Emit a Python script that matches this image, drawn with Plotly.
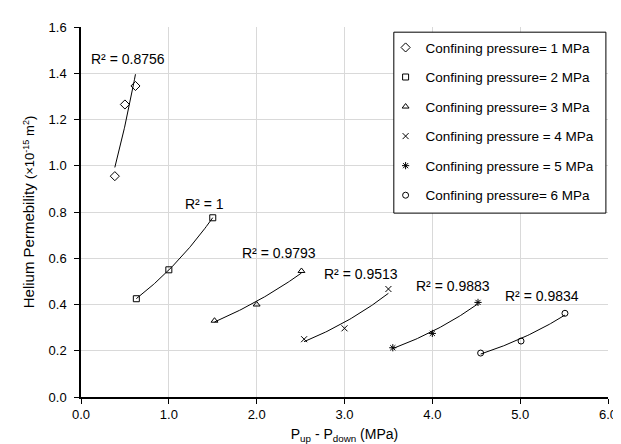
import numpy as np
import plotly.graph_objects as go

# ---- data ----
names = ["Confining pressure= 1 MPa", "Confining pressure= 2 MPa", "Confining pressure= 3 MPa",
         "Confining pressure = 4 MPa", "Confining pressure = 5 MPa", "Confining pressure= 6 MPa"]
dp_1 = [0.385, 0.50, 0.62]
k_1 = [0.955, 1.265, 1.345]
dp_2 = [0.63, 1.00, 1.50]
k_2 = [0.425, 0.55, 0.775]
dp_3 = [1.52, 2.00, 2.51]
k_3 = [0.33, 0.40, 0.545]
dp_4 = [2.54, 3.00, 3.50]
k_4 = [0.25, 0.297, 0.467]
dp_5 = [3.55, 4.00, 4.52]
k_5 = [0.213, 0.275, 0.409]
dp_6 = [4.55, 5.01, 5.51]
k_6 = [0.19, 0.242, 0.362]
r2_labels = ["R² = 0.8756", "R² = 1", "R² = 0.9793", "R² = 0.9513", "R² = 0.9883", "R² = 0.9834"]
x_ticks = [0, 1, 2, 3, 4, 5, 6]
y_ticks = [0, 0.2, 0.4, 0.6, 0.8, 1.0, 1.2, 1.4, 1.6]

# label anchor positions (data coordinates)
label_x = [0.53, 1.41, 2.25, 3.19, 4.235, 5.245]
label_y = [1.46, 0.833, 0.622, 0.53, 0.481, 0.4385]

xs = [dp_1, dp_2, dp_3, dp_4, dp_5, dp_6]
ys = [k_1, k_2, k_3, k_4, k_5, k_6]
symbols = ["diamond-open", "square-open", "triangle-up-open", "x-thin-open", "asterisk-open", "circle-open"]
msizes = [7, 6, 6, 6, 6, 6]

FONT = "Liberation Sans, Arial, Helvetica, sans-serif"

fig = go.Figure()
for i in range(6):
    x = np.array(xs[i]); y = np.array(ys[i])
    b, a = np.polyfit(x, np.log(y), 1)
    xf = np.linspace(x.min(), x.max(), 60)
    yf = np.exp(a + b * xf)
    fig.add_trace(go.Scatter(x=xf, y=yf, mode="lines", line=dict(color="black", width=1),
                             showlegend=False, hoverinfo="skip", legendgroup=f"g{i}"))
for i in range(6):
    fig.add_trace(go.Scatter(x=xs[i], y=ys[i], mode="markers", name=names[i], legendgroup=f"g{i}",
                             marker=dict(symbol=symbols[i], size=msizes[i], color="black",
                                         line=dict(color="black", width=1))))

for i in range(6):
    fig.add_annotation(x=label_x[i], y=label_y[i], text=r2_labels[i], showarrow=False,
                       font=dict(family=FONT, size=14, color="black"), xanchor="center", yanchor="middle")

# legend frame
fig.add_shape(type="rect", xref="paper", yref="paper", x0=0.5936, x1=0.996, y0=0.497, y1=0.986,
              line=dict(color="black", width=1), fillcolor="white", layer="above")

fig.update_layout(
    width=621, height=444,
    margin=dict(l=73, r=19, t=19, b=47),
    paper_bgcolor="white", plot_bgcolor="white",
    font=dict(family=FONT, size=13, color="black"),
    legend=dict(x=0.578, y=0.986, xanchor="left", yanchor="top",
                borderwidth=0, bgcolor="rgba(0,0,0,0)",
                font=dict(family=FONT, size=13.5, color="black"),
                traceorder="grouped", tracegroupgap=9, itemwidth=30),
    xaxis=dict(range=[0, 6], tickvals=x_ticks, ticktext=[f"{v:.1f}" for v in x_ticks],
               showgrid=True, gridcolor="#d9d9d9", gridwidth=1,
               showline=True, linecolor="black", linewidth=1.5,
               ticks="outside", ticklen=5, tickcolor="black", zeroline=False,
               tickfont=dict(family=FONT, size=13),
               title=dict(text="P<sub>up</sub> - P<sub>down</sub> (MPa)", standoff=8,
                          font=dict(family=FONT, size=14))),
    yaxis=dict(range=[0, 1.6], tickvals=y_ticks, ticktext=[f"{v:.1f}" for v in y_ticks],
               showgrid=True, gridcolor="#d9d9d9", gridwidth=1,
               showline=True, linecolor="black", linewidth=1.5,
               ticks="outside", ticklen=5, tickcolor="black", zeroline=False,
               ticklabelstandoff=5, tickfont=dict(family=FONT, size=13),
               title=dict(text="Helium Permebility <span style='font-size:13px'>(×10<sup>-15</sup> m<sup>2</sup>)</span>",
                          standoff=10, font=dict(family=FONT, size=15))),
)

fig.write_html("out.html")
